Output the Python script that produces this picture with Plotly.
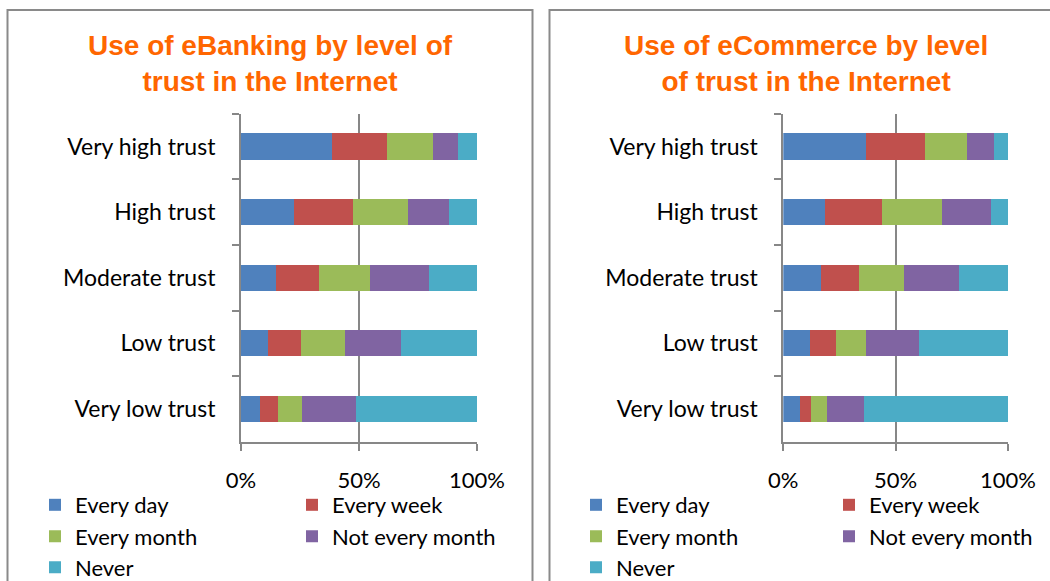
import plotly.graph_objects as go

# Trust levels, listed from top to bottom of each chart
categories = ["Very high trust", "High trust", "Moderate trust", "Low trust", "Very low trust"]
series_names = ["Every day", "Every week", "Every month", "Not every month", "Never"]

# Share of users (%) by frequency of use - eBanking
ebanking_every_day = [38.4, 22.6, 14.7, 11.6, 7.9]
ebanking_every_week = [23.5, 25.0, 18.5, 14.0, 7.9]
ebanking_every_month = [19.3, 23.3, 21.3, 18.3, 9.9]
ebanking_not_every_month = [10.9, 17.2, 25.3, 24.0, 23.2]
ebanking_never = [7.9, 11.9, 20.2, 32.1, 51.1]

# Share of users (%) by frequency of use - eCommerce
ecommerce_every_day = [36.7, 18.7, 16.6, 11.9, 7.6]
ecommerce_every_week = [26.4, 25.4, 17.2, 11.5, 4.6]
ecommerce_every_month = [18.8, 26.5, 20.0, 13.4, 7.1]
ecommerce_not_every_month = [11.7, 22.0, 24.2, 23.7, 16.8]
ecommerce_never = [6.4, 7.4, 22.0, 39.5, 63.9]

x_tickvals = [0, 50, 100]
x_ticktext = ["0%", "50%", "100%"]

colors = ["#4F81BD", "#C0504D", "#9BBB59", "#8064A2", "#4BACC6"]

W, H = 1050, 581
LABEL_FONT = "Lato, 'Open Sans', sans-serif"
TITLE_FONT = "'Liberation Sans', Arial, sans-serif"
AXIS_GREY = "#878787"


def px_x(p):
    return p / W


def px_y(p):
    return 1 - p / H


fig = go.Figure()

panels = [
    dict(suffix="", title="Use of eBanking by level of<br>trust in the Internet",
         values=[ebanking_every_day, ebanking_every_week, ebanking_every_month,
                 ebanking_not_every_month, ebanking_never],
         legend_x=[35, 292], center=270),
    dict(suffix="2", title="Use of eCommerce by level<br>of trust in the Internet",
         values=[ecommerce_every_day, ecommerce_every_week, ecommerce_every_month,
                 ecommerce_not_every_month, ecommerce_never],
         legend_x=[576, 829], center=806),
]

legend_rows = [505, 536.5, 567.5]
# grid position (row, column) of each legend entry
legend_slots = [(0, 0), (0, 1), (1, 0), (1, 1), (2, 0)]

layout_legends = {}
legend_idx = 0
for panel in panels:
    for i, name in enumerate(series_names):
        legend_idx += 1
        lid = "legend" if legend_idx == 1 else f"legend{legend_idx}"
        fig.add_trace(go.Bar(
            y=categories,
            x=panel["values"][i],
            name=name,
            orientation="h",
            marker=dict(color=colors[i], line=dict(width=0)),
            xaxis="x" + panel["suffix"],
            yaxis="y" + panel["suffix"],
            legend=lid,
            hovertemplate="%{y}: %{x:.1f}%<extra>" + name + "</extra>",
        ))
        r, c = legend_slots[i]
        layout_legends[lid] = dict(
            x=px_x(panel["legend_x"][c]), y=px_y(legend_rows[r]),
            xanchor="left", yanchor="middle",
            orientation="v",
            bgcolor="rgba(0,0,0,0)", borderwidth=0,
            font=dict(family=LABEL_FONT, size=22, color="#000000"),
            itemwidth=30,
        )

x_domains = [[241 / W, 477 / W], [783.3 / W, 1008 / W]]
y_domain = [px_y(441.7), px_y(113.7)]

axis_common_x = dict(
    range=[0, 100], tickvals=x_tickvals, ticktext=x_ticktext,
    showgrid=True, gridcolor=AXIS_GREY, gridwidth=1.6,
    showline=True, linecolor=AXIS_GREY, linewidth=2,
    ticks="outside", ticklen=7, tickwidth=2, tickcolor=AXIS_GREY,
    ticklabelstandoff=11, zeroline=False,
    tickfont=dict(family=LABEL_FONT, size=22, color="#000000"),
    fixedrange=True,
)
axis_common_y = dict(
    type="category", categoryorder="array", categoryarray=categories,
    autorange="reversed", tickson="boundaries",
    showgrid=False, showline=True, linecolor=AXIS_GREY, linewidth=2,
    ticks="outside", ticklen=7, tickwidth=2, tickcolor=AXIS_GREY,
    ticklabelstandoff=19,
    tickfont=dict(family=LABEL_FONT, size=23, color="#000000"),
    domain=y_domain, fixedrange=True,
)

layout = dict(
    width=W, height=H,
    margin=dict(l=0, r=0, t=0, b=0, autoexpand=False),
    paper_bgcolor="#FFFFFF", plot_bgcolor="#FFFFFF",
    barmode="stack", bargap=0.6,
    showlegend=True,
    xaxis=dict(domain=x_domains[0], anchor="y", **axis_common_x),
    yaxis=dict(anchor="x", **axis_common_y),
    xaxis2=dict(domain=x_domains[1], anchor="y2", **axis_common_x),
    yaxis2=dict(anchor="x2", **axis_common_y),
    shapes=[
        dict(type="rect", xref="paper", yref="paper",
             x0=px_x(7.5), x1=px_x(532.5), y0=-0.1, y1=px_y(10),
             line=dict(color="#8A8A8A", width=2), fillcolor="rgba(0,0,0,0)", layer="below"),
        dict(type="rect", xref="paper", yref="paper",
             x0=px_x(549.5), x1=1.1, y0=-0.1, y1=px_y(10),
             line=dict(color="#8A8A8A", width=2), fillcolor="rgba(0,0,0,0)", layer="below"),
    ],
    annotations=[
        dict(text=p["title"], xref="paper", yref="paper",
             x=px_x(p["center"]), y=px_y(63), xanchor="center", yanchor="middle",
             showarrow=False, align="center",
             font=dict(family=TITLE_FONT, size=28, color="#FF6600", weight="bold"))
        for p in panels
    ],
)
layout.update(layout_legends)
fig.update_layout(**layout)

fig.write_html("out.html")
